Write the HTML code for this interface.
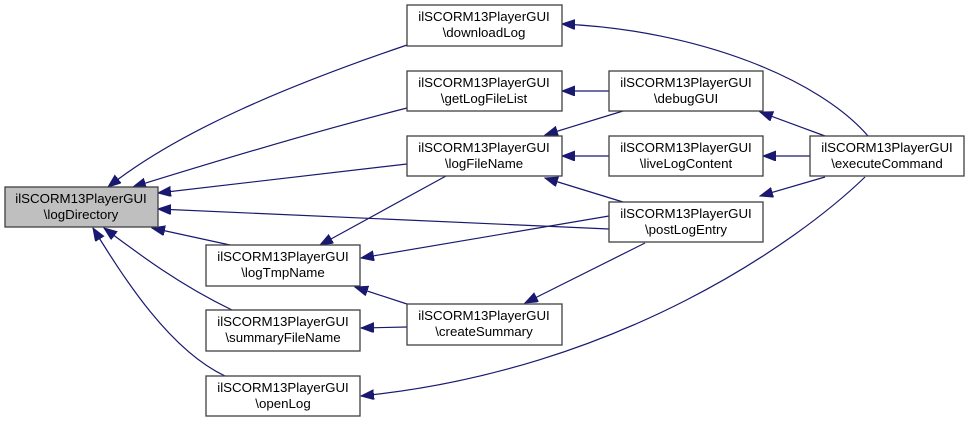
<!DOCTYPE html>
<html><head><meta charset="utf-8"><style>
body{margin:0;background:#fff;}
svg{display:block;}
text{font-family:"Liberation Sans",sans-serif;font-size:13.3px;fill:#000;text-anchor:middle;}
rect{stroke:#404040;stroke-width:1.3;fill:#fff;}
path{fill:none;stroke:#191970;stroke-width:1.2;}
</style></head><body>
<svg width="969" height="423" viewBox="0 0 969 423" xmlns="http://www.w3.org/2000/svg">
<defs><marker id="a" markerUnits="userSpaceOnUse" markerWidth="14" markerHeight="12" refX="13" refY="5" orient="auto"><polygon points="0,0 13,5 0,10" fill="#191970" stroke="#191970"/></marker></defs>
<g marker-end="url(#a)">
<path d="M868,136 C820,80 700,30 562,24"/>
<path d="M609,91 L562,91"/>
<path d="M623,111 L545,135"/>
<path d="M609,156 L562,156"/>
<path d="M623,202 L545,178"/>
<path d="M825,136 L760,112"/>
<path d="M810,156 L763,156"/>
<path d="M825,177 L760,196"/>
<path d="M865,177 C800,240 620,370 361,396"/>
<path d="M407,45 C290,85 180,130 108,187"/>
<path d="M407,108 C320,130 220,160 133,187"/>
<path d="M407,164 L158,193"/>
<path d="M609,229 L158,209"/>
<path d="M230,245 L152,228"/>
<path d="M232,310 C180,285 140,255 104,228"/>
<path d="M225,376 C170,350 125,280 93,228"/>
<path d="M446,176 L320,245"/>
<path d="M609,216 L361,258"/>
<path d="M645,243 L525,303"/>
<path d="M410,305 L355,287"/>
<path d="M407,327 L361,328"/>
</g>
<g>
<rect x="5" y="187" width="153" height="40" style="fill:#bfbfbf"/>
<text x="81" y="203">ilSCORM13PlayerGUI</text><text x="81" y="219">\logDirectory</text>
<rect x="407" y="5" width="155" height="41"/>
<text x="484" y="21">ilSCORM13PlayerGUI</text><text x="484" y="37">\downloadLog</text>
<rect x="407" y="71" width="155" height="40"/>
<text x="484" y="87">ilSCORM13PlayerGUI</text><text x="484" y="103">\getLogFileList</text>
<rect x="407" y="136" width="155" height="40"/>
<text x="484" y="152">ilSCORM13PlayerGUI</text><text x="484" y="168">\logFileName</text>
<rect x="609" y="71" width="154" height="40"/>
<text x="686" y="87">ilSCORM13PlayerGUI</text><text x="686" y="103">\debugGUI</text>
<rect x="609" y="136" width="154" height="40"/>
<text x="686" y="152">ilSCORM13PlayerGUI</text><text x="686" y="168">\liveLogContent</text>
<rect x="609" y="202" width="154" height="40"/>
<text x="686" y="218">ilSCORM13PlayerGUI</text><text x="686" y="234">\postLogEntry</text>
<rect x="810" y="136" width="154" height="40"/>
<text x="887" y="152">ilSCORM13PlayerGUI</text><text x="887" y="168">\executeCommand</text>
<rect x="206" y="245" width="154" height="41"/>
<text x="283" y="261">ilSCORM13PlayerGUI</text><text x="283" y="277">\logTmpName</text>
<rect x="206" y="310" width="154" height="41"/>
<text x="283" y="326">ilSCORM13PlayerGUI</text><text x="283" y="342">\summaryFileName</text>
<rect x="206" y="376" width="154" height="40"/>
<text x="283" y="392">ilSCORM13PlayerGUI</text><text x="283" y="408">\openLog</text>
<rect x="407" y="304" width="155" height="41"/>
<text x="484" y="320">ilSCORM13PlayerGUI</text><text x="484" y="336">\createSummary</text>
</g>
</svg>
</body></html>
